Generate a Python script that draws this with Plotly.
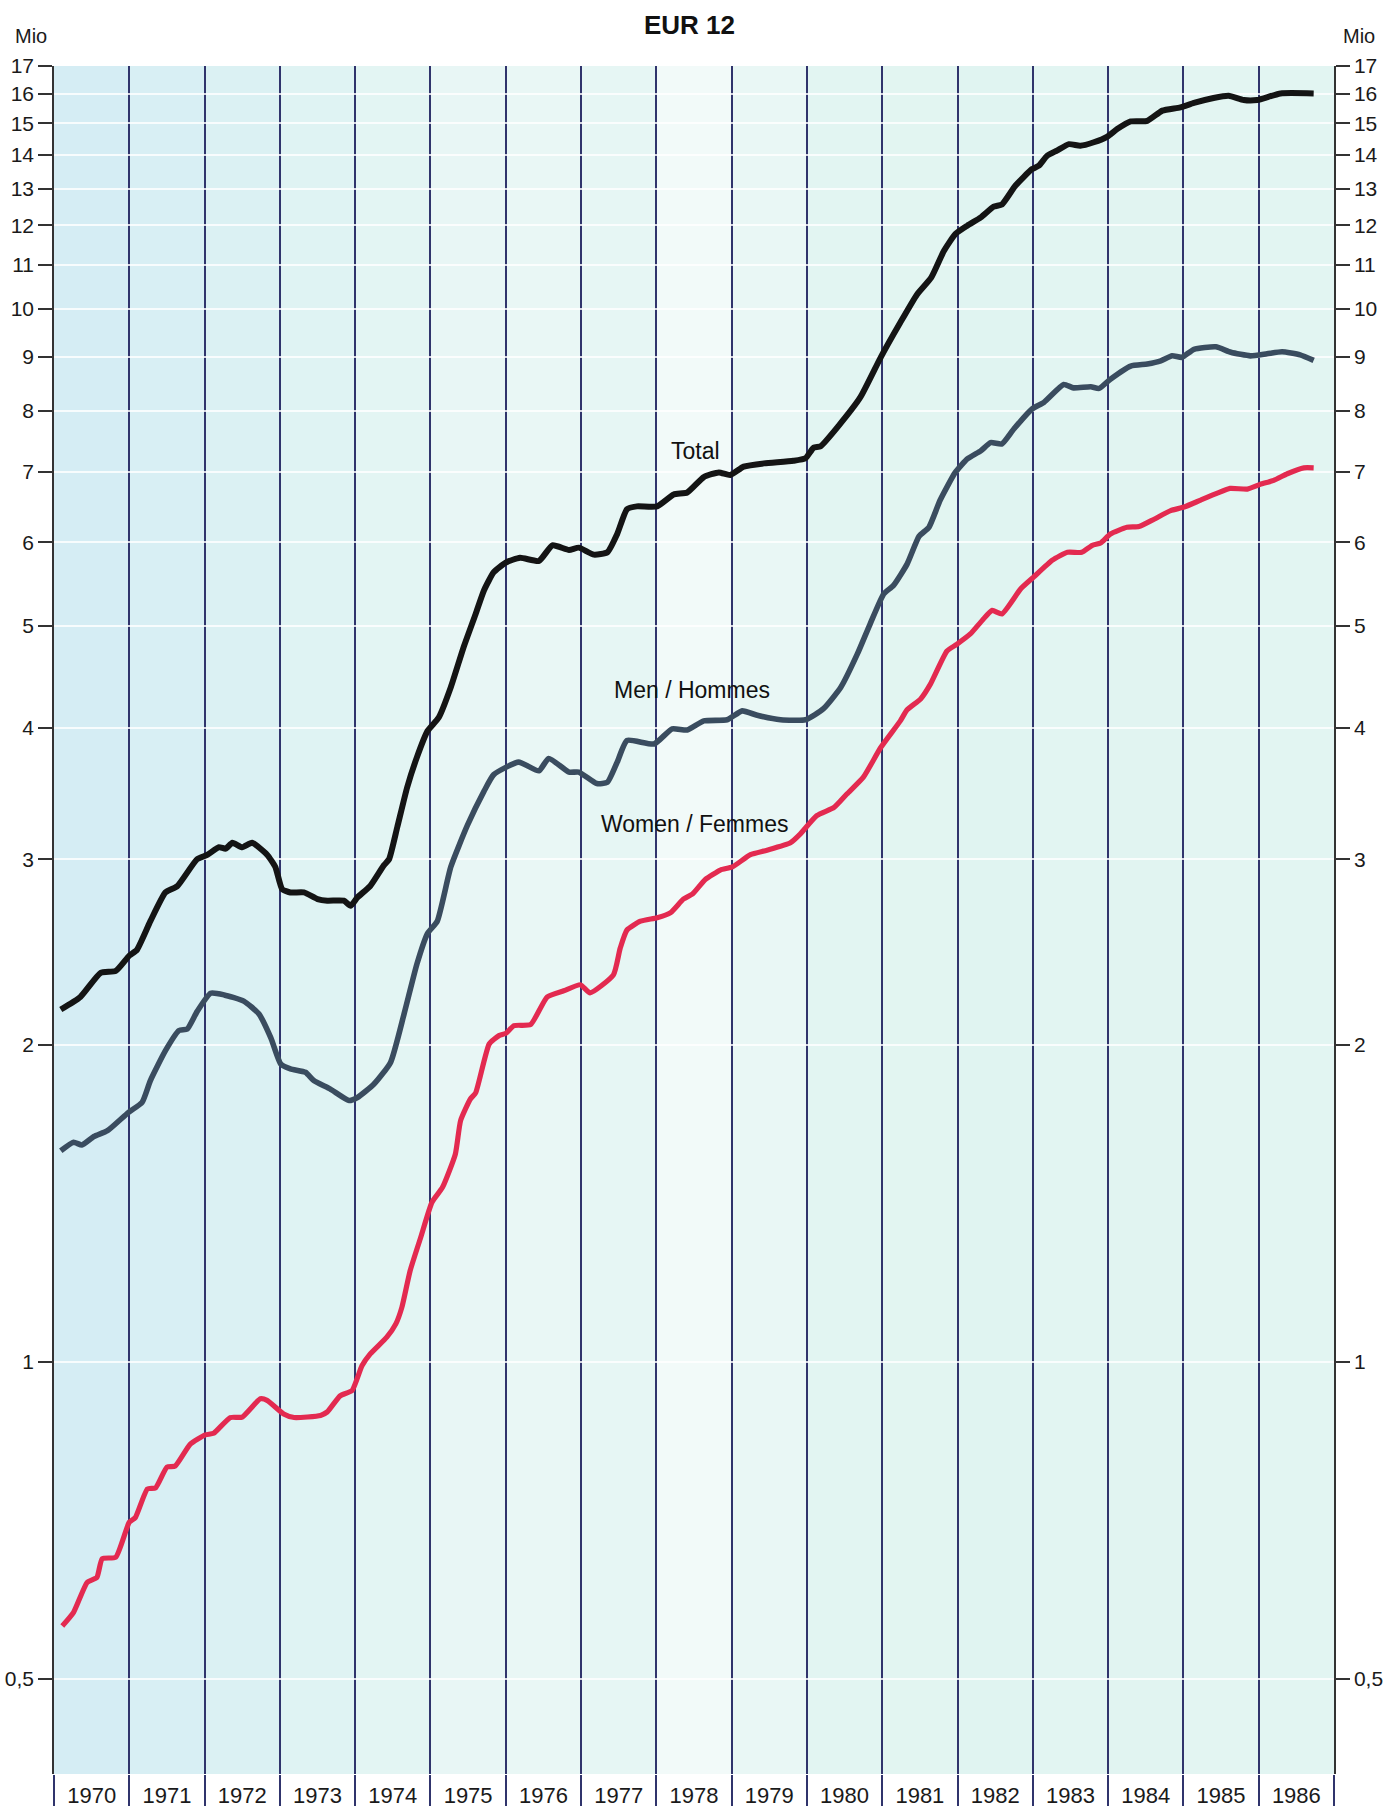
import math

import plotly.graph_objects as go

# values, in millions, x as decimal year
total_t = [1970.09, 1970.35, 1970.62, 1970.82, 1971.00, 1971.10, 1971.28, 1971.48, 1971.64, 1971.90,
           1972.04, 1972.19, 1972.28, 1972.37, 1972.50, 1972.63, 1972.83, 1972.94, 1973.03, 1973.14,
           1973.32, 1973.50, 1973.63, 1973.85, 1973.94, 1974.03, 1974.20, 1974.38, 1974.45, 1974.56,
           1974.69, 1974.82, 1974.96, 1975.11, 1975.27, 1975.44, 1975.60, 1975.71, 1975.84, 1976.00,
           1976.19, 1976.44, 1976.62, 1976.84, 1976.97, 1977.17, 1977.35, 1977.48, 1977.61, 1977.74,
           1978.01, 1978.23, 1978.41, 1978.63, 1978.83, 1978.98, 1979.16, 1979.43, 1979.82, 1979.98,
           1980.09, 1980.18, 1980.42, 1980.71, 1980.98, 1981.24, 1981.46, 1981.65, 1981.82, 1981.97,
           1982.13, 1982.31, 1982.48, 1982.59, 1982.77, 1982.99, 1983.08, 1983.19, 1983.32, 1983.48,
           1983.63, 1983.81, 1983.99, 1984.12, 1984.30, 1984.52, 1984.72, 1984.96, 1985.14, 1985.40,
           1985.60, 1985.80, 1985.98, 1986.29, 1986.73]
total_v = [2.16, 2.22, 2.34, 2.35, 2.43, 2.46, 2.62, 2.79, 2.83, 3.00,
           3.03, 3.08, 3.07, 3.11, 3.08, 3.11, 3.03, 2.95, 2.81, 2.79,
           2.79, 2.75, 2.74, 2.74, 2.71, 2.76, 2.83, 2.96, 3.00, 3.22,
           3.51, 3.75, 3.97, 4.09, 4.37, 4.77, 5.13, 5.40, 5.62, 5.74,
           5.80, 5.76, 5.96, 5.90, 5.93, 5.84, 5.87, 6.11, 6.45, 6.49,
           6.49, 6.66, 6.69, 6.92, 6.99, 6.95, 7.08, 7.13, 7.17, 7.21,
           7.38, 7.40, 7.74, 8.24, 8.99, 9.70, 10.31, 10.70, 11.35, 11.77,
           11.99, 12.21, 12.50, 12.56, 13.09, 13.57, 13.67, 13.97, 14.13, 14.33,
           14.28, 14.39, 14.57, 14.81, 15.06, 15.08, 15.42, 15.53, 15.68, 15.85,
           15.93, 15.78, 15.78, 16.01, 16.01]

men_t = [1970.09, 1970.26, 1970.37, 1970.53, 1970.71, 1970.99, 1971.17, 1971.28, 1971.48, 1971.66,
         1971.77, 1971.90, 1972.08, 1972.26, 1972.52, 1972.72, 1972.88, 1973.01, 1973.14, 1973.34,
         1973.45, 1973.67, 1973.92, 1974.03, 1974.25, 1974.47, 1974.65, 1974.82, 1974.96, 1975.09,
         1975.27, 1975.49, 1975.71, 1975.84, 1976.17, 1976.44, 1976.57, 1976.84, 1976.97, 1977.21,
         1977.35, 1977.48, 1977.61, 1977.97, 1978.21, 1978.41, 1978.63, 1978.94, 1979.14, 1979.34,
         1979.65, 1979.98, 1980.22, 1980.45, 1980.67, 1980.84, 1981.02, 1981.15, 1981.33, 1981.49,
         1981.62, 1981.77, 1981.97, 1982.13, 1982.31, 1982.44, 1982.59, 1982.75, 1982.99, 1983.15,
         1983.41, 1983.54, 1983.77, 1983.88, 1984.03, 1984.30, 1984.52, 1984.70, 1984.85, 1984.98,
         1985.14, 1985.43, 1985.63, 1985.89, 1986.11, 1986.31, 1986.55, 1986.73]
men_v = [1.586, 1.616, 1.606, 1.636, 1.657, 1.725, 1.763, 1.849, 1.974, 2.063,
         2.07, 2.15, 2.238, 2.23, 2.20, 2.14, 2.03, 1.918, 1.897, 1.883,
         1.849, 1.815, 1.770, 1.782, 1.835, 1.924, 2.14, 2.386, 2.55, 2.62,
         2.95, 3.23, 3.48, 3.61, 3.71, 3.64, 3.74, 3.63, 3.63, 3.54,
         3.55, 3.71, 3.89, 3.86, 3.99, 3.98, 4.06, 4.07, 4.15, 4.11,
         4.07, 4.07, 4.17, 4.37, 4.70, 5.02, 5.36, 5.46, 5.72, 6.08,
         6.20, 6.58, 6.99, 7.20, 7.33, 7.46, 7.44, 7.69, 8.03, 8.15,
         8.47, 8.41, 8.43, 8.40, 8.57, 8.82, 8.86, 8.92, 9.02, 8.99,
         9.15, 9.20, 9.09, 9.02, 9.06, 9.10, 9.04, 8.93]

women_t = [1970.11, 1970.26, 1970.44, 1970.57, 1970.64, 1970.82, 1971.00, 1971.08, 1971.24, 1971.35,
           1971.50, 1971.61, 1971.81, 1972.01, 1972.12, 1972.34, 1972.50, 1972.74, 1972.83, 1973.05,
           1973.19, 1973.54, 1973.63, 1973.80, 1973.96, 1974.09, 1974.20, 1974.42, 1974.54, 1974.62,
           1974.73, 1974.87, 1975.02, 1975.16, 1975.33, 1975.40, 1975.53, 1975.60, 1975.78, 1975.91,
           1976.00, 1976.11, 1976.33, 1976.55, 1976.77, 1976.99, 1977.12, 1977.43, 1977.52, 1977.61,
           1977.79, 1978.01, 1978.19, 1978.36, 1978.48, 1978.65, 1978.85, 1979.01, 1979.25, 1979.47,
           1979.78, 1979.91, 1980.13, 1980.36, 1980.53, 1980.75, 1980.98, 1981.24, 1981.33, 1981.51,
           1981.64, 1981.86, 1981.99, 1982.17, 1982.33, 1982.46, 1982.59, 1982.84, 1983.01, 1983.26,
           1983.46, 1983.65, 1983.79, 1983.90, 1984.03, 1984.25, 1984.41, 1984.61, 1984.83, 1985.01,
           1985.23, 1985.45, 1985.62, 1985.85, 1986.02, 1986.20, 1986.38, 1986.60, 1986.73]
women_v = [0.561, 0.578, 0.617, 0.624, 0.650, 0.652, 0.704, 0.711, 0.757, 0.759,
           0.794, 0.796, 0.835, 0.852, 0.855, 0.885, 0.886, 0.922, 0.919, 0.892,
           0.885, 0.889, 0.896, 0.928, 0.939, 0.991, 1.017, 1.055, 1.086, 1.126,
           1.22, 1.312, 1.417, 1.464, 1.574, 1.694, 1.776, 1.80, 2.003, 2.04,
           2.05, 2.085, 2.09, 2.22, 2.25, 2.28, 2.24, 2.33, 2.47, 2.57,
           2.62, 2.64, 2.67, 2.75, 2.78, 2.87, 2.93, 2.95, 3.03, 3.06,
           3.11, 3.17, 3.30, 3.36, 3.46, 3.59, 3.83, 4.06, 4.16, 4.26,
           4.40, 4.73, 4.80, 4.91, 5.06, 5.17, 5.13, 5.42, 5.56, 5.77,
           5.87, 5.87, 5.96, 5.99, 6.11, 6.20, 6.21, 6.31, 6.43, 6.48,
           6.58, 6.68, 6.75, 6.74, 6.81, 6.87, 6.97, 7.06, 7.06]

years = list(range(1970, 1987))
y_ticks = [0.5, 1, 2, 3, 4, 5, 6, 7, 8, 9, 10, 11, 12, 13, 14, 15, 16, 17]
y_ticktext = ["0,5"] + [str(v) for v in y_ticks[1:]]

# series labels placed on the chart: (text, year, value)
line_labels = [
    ("Total", 1978.52, 7.32),
    ("Men / Hommes", 1978.48, 4.34),
    ("Women / Femmes", 1978.51, 3.24),
]

# background tint of each year column (scanned paper look)
band_colors = ["#d5edf4", "#d8eff4", "#dbf1f3", "#dff3f3", "#e3f5f3", "#e8f6f5", "#e9f7f5",
               "#e6f6f4", "#f2faf9", "#e9f7f5", "#e2f5f2", "#e2f5f1", "#e0f4f1", "#e2f5f2",
               "#e1f4f1", "#e3f5f2", "#e2f5f2"]

FONT = "Liberation Sans, Arial, sans-serif"
NAVY = "#30346c"
y_range = [math.log10(17) - 1708 / 1053, math.log10(17)]

fig = go.Figure()
for t, v, color, width in [
    (women_t, women_v, "#e32a50", 5.2),
    (men_t, men_v, "#3a4c5f", 5.6),
    (total_t, total_v, "#141414", 6),
]:
    fig.add_trace(go.Scatter(
        x=t, y=v, mode="lines",
        line=dict(color=color, width=width, shape="spline", smoothing=0.5),
        showlegend=False, hoverinfo="skip",
    ))

# empty trace so the right axis and the year label axis get drawn
fig.add_trace(go.Scatter(x=[], y=[], xaxis="x2", yaxis="y2", showlegend=False, hoverinfo="skip"))

for yr, col in zip(years, band_colors):
    fig.add_shape(type="rect", xref="x", yref="paper", x0=yr, x1=yr + 1, y0=0, y1=1,
                  fillcolor=col, line_width=0, layer="below")

for text, x, v in line_labels:
    fig.add_annotation(x=x, y=math.log10(v), text=text, showarrow=False,
                       font=dict(family=FONT, size=23, color="#111111"))

for xp in [-0.018, 1.0195]:
    fig.add_annotation(xref="paper", yref="paper", x=xp, y=1.0176, text="Mio",
                       xanchor="center", yanchor="middle", showarrow=False,
                       font=dict(family=FONT, size=20, color="#1a1a1a"))

axis_y = dict(
    type="log", range=y_range, tickvals=y_ticks, ticktext=y_ticktext,
    ticks="outside", ticklen=14, tickwidth=1.5, tickcolor="#333333",
    showline=True, linecolor="#333333", linewidth=1.5, automargin=False,
    tickfont=dict(family=FONT, size=21, color="#1a1a1a"), zeroline=False,
)

fig.update_layout(
    width=1391, height=1809,
    margin=dict(l=54, r=57, t=66, b=35),
    paper_bgcolor="white", plot_bgcolor="#e4f5f3",
    title=dict(text="<b>EUR 12</b>", x=0.4957, y=0.9862, xanchor="center", yanchor="middle",
               font=dict(family=FONT, size=26, color="#111111")),
    xaxis=dict(
        range=[1970, 1987], tickvals=years + [1987], showticklabels=False,
        showgrid=True, gridcolor=NAVY, gridwidth=1.5,
        ticks="outside", ticklen=31, tickwidth=1.5, tickcolor=NAVY,
        showline=False, zeroline=False, automargin=False,
    ),
    xaxis2=dict(
        range=[1970, 1987], overlaying="x", anchor="y2", side="bottom",
        tickvals=[y + 0.5 for y in years], ticktext=[str(y) for y in years],
        ticks="", showgrid=False, showline=False, zeroline=False, ticklabelstandoff=6,
        automargin=False, tickfont=dict(family=FONT, size=22, color="#1a1a1a"),
    ),
    yaxis=dict(**axis_y, side="left", showgrid=True, gridcolor="rgba(255,255,255,0.8)", gridwidth=2),
    yaxis2=dict(**axis_y, side="right", overlaying="y", anchor="x2", showgrid=False),
)

fig.write_html("out.html", config={"displayModeBar": False},
               post_script="document.body.style.margin='0';")
